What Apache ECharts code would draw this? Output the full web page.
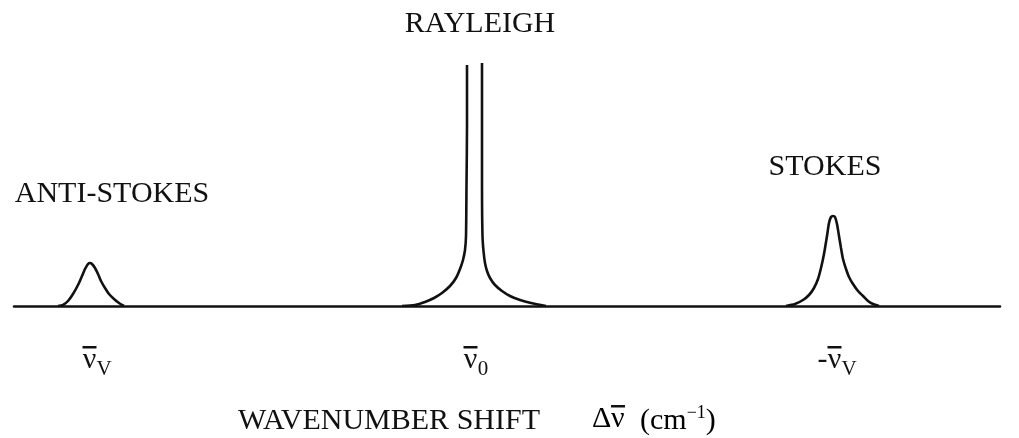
<!DOCTYPE html>
<html>
<head>
<meta charset="utf-8">
<script src="https://cdn.jsdelivr.net/npm/echarts@6/dist/echarts.min.js"></script>
<style>
  html, body { margin: 0; padding: 0; background: #fff; }
  #main { width: 1019px; height: 438px; }
</style>
</head>
<body>
<div id="main"></div>
<script>
// peak shapes: [shift position, intensity]
const antiStokes = [[58, 0], [63, 1], [68, 5], [73, 12], [78, 21], [82, 30], [85, 37], [88, 42], [90, 43],
  [92, 42], [95, 38], [98, 32], [101, 25], [105, 18], [109, 12], [114, 7], [119, 3], [124, 0]];
const rayleighLeft = [[402, 0], [415, 1], [425, 4], [434, 8], [442, 13], [450, 20], [456, 28], [460, 37],
  [463, 46], [465, 56], [466, 70], [466.5, 120], [467, 180], [467, 241]];
const rayleighRight = [[482, 243], [482, 180], [482, 120], [482.5, 70], [483.5, 55], [485, 43], [487, 35],
  [490, 28], [495, 21], [502, 15], [510, 10], [520, 6], [531, 3], [546, 0]];
const stokes = [[786, 0], [795, 2], [803, 6], [809, 11], [814, 18], [818, 27], [821, 38], [824, 52],
  [827, 70], [829, 83], [831, 89], [833, 90], [835, 89], [837, 82], [839, 70], [841, 58], [843, 47],
  [846, 37], [849, 29], [853, 22], [858, 15], [863, 10], [868, 5], [873, 2], [879, 0]];

// tick labels
const tickValues = [97, 476, 837];
const tickSign = ['', '', '-'];
const tickSub = ['V', '0', 'V'];

// text
const peakNames = ['ANTI-STOKES', 'RAYLEIGH', 'STOKES'];
const axisTitle = 'WAVENUMBER SHIFT';

const ink = '#111';
const serif = 'Liberation Serif';

const chart = echarts.init(document.getElementById('main'));

function curve(data) {
  return {
    type: 'line',
    data: data,
    showSymbol: false,
    silent: true,
    smooth: 0.25,
    lineStyle: { color: ink, width: 2.6 }
  };
}

// nu with a bar over it, subscript pushed down with top padding
const tickRich = {
  bar: { width: 14, height: 2.5, lineHeight: 6, fontSize: 1, backgroundColor: ink, verticalAlign: 'top' },
  gm: { width: 10, lineHeight: 6, fontSize: 1 },
  gV: { width: 15, lineHeight: 6, fontSize: 1 },
  g0: { width: 11, lineHeight: 6, fontSize: 1 },
  m: { fontFamily: serif, fontSize: 30, color: ink, width: 10, lineHeight: 16 },
  n: { fontFamily: serif, fontSize: 30, color: ink, width: 14, lineHeight: 16 },
  sV: { fontFamily: serif, fontSize: 21, color: ink, width: 15, lineHeight: 16, padding: [18, 0, 0, 0] },
  s0: { fontFamily: serif, fontSize: 21, color: ink, width: 11, lineHeight: 16, padding: [18, 0, 0, 0] }
};

const option = {
  backgroundColor: '#fff',
  animation: false,
  grid: { left: 14, right: 19, top: 6, bottom: 132 },
  xAxis: {
    type: 'value',
    min: 14,
    max: 1000,
    splitLine: { show: false },
    axisTick: { show: false },
    axisLine: { onZero: false, lineStyle: { color: ink, width: 2.5 } },
    axisLabel: {
      customValues: tickValues,
      margin: 40,
      formatter: function (v) {
        const i = tickValues.indexOf(v);
        const sign = tickSign[i];
        const sub = tickSub[i];
        const top = (sign ? '{gm| }' : '') + '{bar| }{g' + sub + '| }';
        const bottom = (sign ? '{m|' + sign + '}' : '') + '{n|ν}{s' + sub + '|' + sub + '}';
        return top + '\n' + bottom;
      },
      rich: tickRich
    }
  },
  yAxis: { type: 'value', min: 0, max: 300, show: false },
  series: [curve(antiStokes), curve(rayleighLeft), curve(rayleighRight), curve(stokes)],
  graphic: [
    { type: 'text', x: 112, y: 194, style: { text: peakNames[0], fill: ink, font: '30px "Liberation Serif"', align: 'center', verticalAlign: 'middle' } },
    { type: 'text', x: 480, y: 24, style: { text: peakNames[1], fill: ink, font: '30px "Liberation Serif"', align: 'center', verticalAlign: 'middle' } },
    { type: 'text', x: 825, y: 167, style: { text: peakNames[2], fill: ink, font: '30px "Liberation Serif"', align: 'center', verticalAlign: 'middle' } },
    { type: 'text', x: 238, y: 421, style: { text: axisTitle, fill: ink, font: '30px "Liberation Serif"', align: 'left', verticalAlign: 'middle' } },
    {
      type: 'text', x: 592, y: 405,
      style: {
        text: '{gd| }{bar| }\n{d|Δ}{n|ν}',
        align: 'left', verticalAlign: 'top',
        rich: {
          gd: { width: 19, lineHeight: 6, fontSize: 1 },
          bar: { width: 14, height: 2.5, lineHeight: 6, fontSize: 1, backgroundColor: ink, verticalAlign: 'top' },
          d: { fontFamily: serif, fontSize: 30, color: ink, width: 19, lineHeight: 16 },
          n: { fontFamily: serif, fontSize: 30, color: ink, width: 14, lineHeight: 16 }
        }
      }
    },
    {
      type: 'text', x: 640, y: 421,
      style: {
        text: '{t|(cm}{p|−1}{t|)}',
        align: 'left', verticalAlign: 'middle',
        rich: {
          t: { fontFamily: serif, fontSize: 30, color: ink, lineHeight: 34 },
          p: { fontFamily: serif, fontSize: 18, color: ink, lineHeight: 16, verticalAlign: 'top' }
        }
      }
    }
  ]
};

chart.setOption(option);
</script>
</body>
</html>
